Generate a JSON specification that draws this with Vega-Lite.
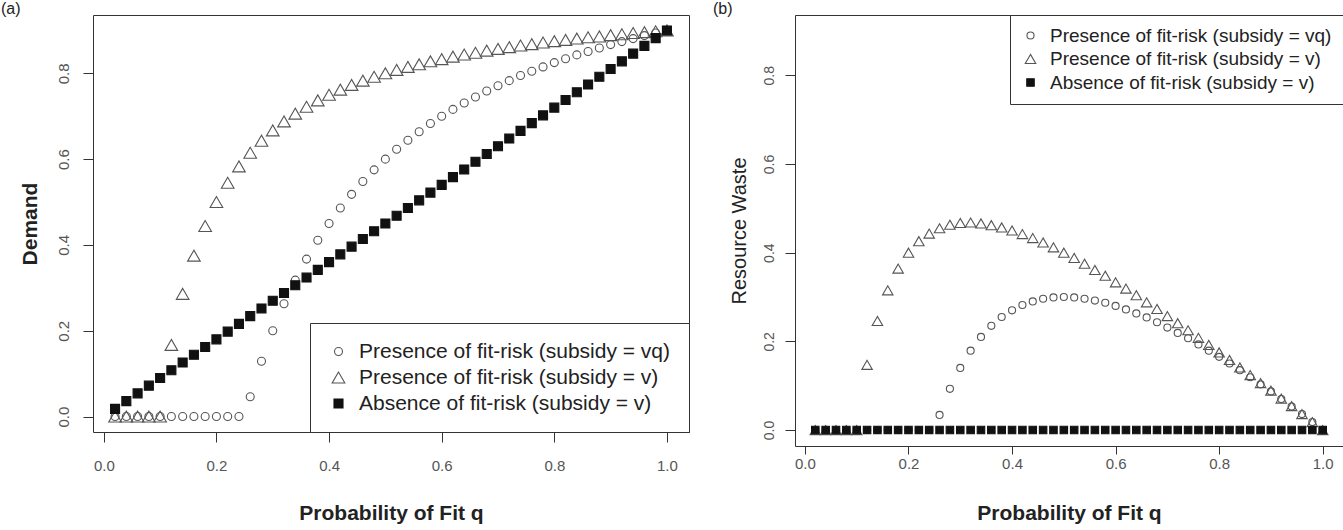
{
  "$schema": "https://vega.github.io/schema/vega-lite/v6.json",
  "padding": {"left": 0, "top": 0, "right": 0, "bottom": 0},
  "background": "white",
  "spacing": 22,
  "datasets": {
    "rows": [
      {"q":0.02,"series":"Presence of fit-risk (subsidy = vq)","demand":0,"waste":0},
      {"q":0.04,"series":"Presence of fit-risk (subsidy = vq)","demand":0,"waste":0},
      {"q":0.06,"series":"Presence of fit-risk (subsidy = vq)","demand":0,"waste":0},
      {"q":0.08,"series":"Presence of fit-risk (subsidy = vq)","demand":0,"waste":0},
      {"q":0.10,"series":"Presence of fit-risk (subsidy = vq)","demand":0,"waste":0},
      {"q":0.12,"series":"Presence of fit-risk (subsidy = vq)","demand":0,"waste":0},
      {"q":0.14,"series":"Presence of fit-risk (subsidy = vq)","demand":0,"waste":0},
      {"q":0.16,"series":"Presence of fit-risk (subsidy = vq)","demand":0,"waste":0},
      {"q":0.18,"series":"Presence of fit-risk (subsidy = vq)","demand":0,"waste":0},
      {"q":0.20,"series":"Presence of fit-risk (subsidy = vq)","demand":0,"waste":0},
      {"q":0.22,"series":"Presence of fit-risk (subsidy = vq)","demand":0,"waste":0},
      {"q":0.24,"series":"Presence of fit-risk (subsidy = vq)","demand":0,"waste":0},
      {"q":0.26,"series":"Presence of fit-risk (subsidy = vq)","demand":0.046,"waste":0.034},
      {"q":0.28,"series":"Presence of fit-risk (subsidy = vq)","demand":0.129,"waste":0.093},
      {"q":0.30,"series":"Presence of fit-risk (subsidy = vq)","demand":0.2,"waste":0.14},
      {"q":0.32,"series":"Presence of fit-risk (subsidy = vq)","demand":0.263,"waste":0.179},
      {"q":0.34,"series":"Presence of fit-risk (subsidy = vq)","demand":0.318,"waste":0.21},
      {"q":0.36,"series":"Presence of fit-risk (subsidy = vq)","demand":0.367,"waste":0.235},
      {"q":0.38,"series":"Presence of fit-risk (subsidy = vq)","demand":0.411,"waste":0.255},
      {"q":0.40,"series":"Presence of fit-risk (subsidy = vq)","demand":0.45,"waste":0.27},
      {"q":0.42,"series":"Presence of fit-risk (subsidy = vq)","demand":0.486,"waste":0.282},
      {"q":0.44,"series":"Presence of fit-risk (subsidy = vq)","demand":0.518,"waste":0.29},
      {"q":0.46,"series":"Presence of fit-risk (subsidy = vq)","demand":0.548,"waste":0.296},
      {"q":0.48,"series":"Presence of fit-risk (subsidy = vq)","demand":0.575,"waste":0.299},
      {"q":0.50,"series":"Presence of fit-risk (subsidy = vq)","demand":0.6,"waste":0.3},
      {"q":0.52,"series":"Presence of fit-risk (subsidy = vq)","demand":0.623,"waste":0.299},
      {"q":0.54,"series":"Presence of fit-risk (subsidy = vq)","demand":0.644,"waste":0.296},
      {"q":0.56,"series":"Presence of fit-risk (subsidy = vq)","demand":0.664,"waste":0.292},
      {"q":0.58,"series":"Presence of fit-risk (subsidy = vq)","demand":0.683,"waste":0.287},
      {"q":0.60,"series":"Presence of fit-risk (subsidy = vq)","demand":0.7,"waste":0.28},
      {"q":0.62,"series":"Presence of fit-risk (subsidy = vq)","demand":0.716,"waste":0.272},
      {"q":0.64,"series":"Presence of fit-risk (subsidy = vq)","demand":0.731,"waste":0.263},
      {"q":0.66,"series":"Presence of fit-risk (subsidy = vq)","demand":0.745,"waste":0.254},
      {"q":0.68,"series":"Presence of fit-risk (subsidy = vq)","demand":0.759,"waste":0.243},
      {"q":0.70,"series":"Presence of fit-risk (subsidy = vq)","demand":0.771,"waste":0.231},
      {"q":0.72,"series":"Presence of fit-risk (subsidy = vq)","demand":0.783,"waste":0.219},
      {"q":0.74,"series":"Presence of fit-risk (subsidy = vq)","demand":0.795,"waste":0.207},
      {"q":0.76,"series":"Presence of fit-risk (subsidy = vq)","demand":0.805,"waste":0.193},
      {"q":0.78,"series":"Presence of fit-risk (subsidy = vq)","demand":0.815,"waste":0.179},
      {"q":0.80,"series":"Presence of fit-risk (subsidy = vq)","demand":0.825,"waste":0.165},
      {"q":0.82,"series":"Presence of fit-risk (subsidy = vq)","demand":0.834,"waste":0.15},
      {"q":0.84,"series":"Presence of fit-risk (subsidy = vq)","demand":0.843,"waste":0.135},
      {"q":0.86,"series":"Presence of fit-risk (subsidy = vq)","demand":0.851,"waste":0.119},
      {"q":0.88,"series":"Presence of fit-risk (subsidy = vq)","demand":0.859,"waste":0.103},
      {"q":0.90,"series":"Presence of fit-risk (subsidy = vq)","demand":0.867,"waste":0.087},
      {"q":0.92,"series":"Presence of fit-risk (subsidy = vq)","demand":0.874,"waste":0.07},
      {"q":0.94,"series":"Presence of fit-risk (subsidy = vq)","demand":0.881,"waste":0.053},
      {"q":0.96,"series":"Presence of fit-risk (subsidy = vq)","demand":0.888,"waste":0.036},
      {"q":0.98,"series":"Presence of fit-risk (subsidy = vq)","demand":0.894,"waste":0.018},
      {"q":1.00,"series":"Presence of fit-risk (subsidy = vq)","demand":0.9,"waste":0},
      {"q":0.02,"series":"Presence of fit-risk (subsidy = v)","demand":0,"waste":0},
      {"q":0.04,"series":"Presence of fit-risk (subsidy = v)","demand":0,"waste":0},
      {"q":0.06,"series":"Presence of fit-risk (subsidy = v)","demand":0,"waste":0},
      {"q":0.08,"series":"Presence of fit-risk (subsidy = v)","demand":0,"waste":0},
      {"q":0.10,"series":"Presence of fit-risk (subsidy = v)","demand":0,"waste":0},
      {"q":0.12,"series":"Presence of fit-risk (subsidy = v)","demand":0.167,"waste":0.147},
      {"q":0.14,"series":"Presence of fit-risk (subsidy = v)","demand":0.286,"waste":0.246},
      {"q":0.16,"series":"Presence of fit-risk (subsidy = v)","demand":0.375,"waste":0.315},
      {"q":0.18,"series":"Presence of fit-risk (subsidy = v)","demand":0.444,"waste":0.364},
      {"q":0.20,"series":"Presence of fit-risk (subsidy = v)","demand":0.5,"waste":0.4},
      {"q":0.22,"series":"Presence of fit-risk (subsidy = v)","demand":0.545,"waste":0.426},
      {"q":0.24,"series":"Presence of fit-risk (subsidy = v)","demand":0.583,"waste":0.443},
      {"q":0.26,"series":"Presence of fit-risk (subsidy = v)","demand":0.615,"waste":0.455},
      {"q":0.28,"series":"Presence of fit-risk (subsidy = v)","demand":0.643,"waste":0.463},
      {"q":0.30,"series":"Presence of fit-risk (subsidy = v)","demand":0.667,"waste":0.467},
      {"q":0.32,"series":"Presence of fit-risk (subsidy = v)","demand":0.688,"waste":0.468},
      {"q":0.34,"series":"Presence of fit-risk (subsidy = v)","demand":0.706,"waste":0.466},
      {"q":0.36,"series":"Presence of fit-risk (subsidy = v)","demand":0.722,"waste":0.462},
      {"q":0.38,"series":"Presence of fit-risk (subsidy = v)","demand":0.737,"waste":0.457},
      {"q":0.40,"series":"Presence of fit-risk (subsidy = v)","demand":0.75,"waste":0.45},
      {"q":0.42,"series":"Presence of fit-risk (subsidy = v)","demand":0.762,"waste":0.442},
      {"q":0.44,"series":"Presence of fit-risk (subsidy = v)","demand":0.773,"waste":0.433},
      {"q":0.46,"series":"Presence of fit-risk (subsidy = v)","demand":0.783,"waste":0.423},
      {"q":0.48,"series":"Presence of fit-risk (subsidy = v)","demand":0.792,"waste":0.412},
      {"q":0.50,"series":"Presence of fit-risk (subsidy = v)","demand":0.8,"waste":0.4},
      {"q":0.52,"series":"Presence of fit-risk (subsidy = v)","demand":0.808,"waste":0.388},
      {"q":0.54,"series":"Presence of fit-risk (subsidy = v)","demand":0.815,"waste":0.375},
      {"q":0.56,"series":"Presence of fit-risk (subsidy = v)","demand":0.821,"waste":0.361},
      {"q":0.58,"series":"Presence of fit-risk (subsidy = v)","demand":0.828,"waste":0.348},
      {"q":0.60,"series":"Presence of fit-risk (subsidy = v)","demand":0.833,"waste":0.333},
      {"q":0.62,"series":"Presence of fit-risk (subsidy = v)","demand":0.839,"waste":0.319},
      {"q":0.64,"series":"Presence of fit-risk (subsidy = v)","demand":0.844,"waste":0.304},
      {"q":0.66,"series":"Presence of fit-risk (subsidy = v)","demand":0.848,"waste":0.288},
      {"q":0.68,"series":"Presence of fit-risk (subsidy = v)","demand":0.853,"waste":0.273},
      {"q":0.70,"series":"Presence of fit-risk (subsidy = v)","demand":0.857,"waste":0.257},
      {"q":0.72,"series":"Presence of fit-risk (subsidy = v)","demand":0.861,"waste":0.241},
      {"q":0.74,"series":"Presence of fit-risk (subsidy = v)","demand":0.865,"waste":0.225},
      {"q":0.76,"series":"Presence of fit-risk (subsidy = v)","demand":0.868,"waste":0.208},
      {"q":0.78,"series":"Presence of fit-risk (subsidy = v)","demand":0.872,"waste":0.192},
      {"q":0.80,"series":"Presence of fit-risk (subsidy = v)","demand":0.875,"waste":0.175},
      {"q":0.82,"series":"Presence of fit-risk (subsidy = v)","demand":0.878,"waste":0.158},
      {"q":0.84,"series":"Presence of fit-risk (subsidy = v)","demand":0.881,"waste":0.141},
      {"q":0.86,"series":"Presence of fit-risk (subsidy = v)","demand":0.884,"waste":0.124},
      {"q":0.88,"series":"Presence of fit-risk (subsidy = v)","demand":0.886,"waste":0.106},
      {"q":0.90,"series":"Presence of fit-risk (subsidy = v)","demand":0.889,"waste":0.089},
      {"q":0.92,"series":"Presence of fit-risk (subsidy = v)","demand":0.891,"waste":0.071},
      {"q":0.94,"series":"Presence of fit-risk (subsidy = v)","demand":0.894,"waste":0.054},
      {"q":0.96,"series":"Presence of fit-risk (subsidy = v)","demand":0.896,"waste":0.036},
      {"q":0.98,"series":"Presence of fit-risk (subsidy = v)","demand":0.898,"waste":0.018},
      {"q":1.00,"series":"Presence of fit-risk (subsidy = v)","demand":0.9,"waste":0},
      {"q":0.02,"series":"Absence of fit-risk (subsidy = v)","demand":0.018,"waste":0},
      {"q":0.04,"series":"Absence of fit-risk (subsidy = v)","demand":0.036,"waste":0},
      {"q":0.06,"series":"Absence of fit-risk (subsidy = v)","demand":0.054,"waste":0},
      {"q":0.08,"series":"Absence of fit-risk (subsidy = v)","demand":0.072,"waste":0},
      {"q":0.10,"series":"Absence of fit-risk (subsidy = v)","demand":0.09,"waste":0},
      {"q":0.12,"series":"Absence of fit-risk (subsidy = v)","demand":0.108,"waste":0},
      {"q":0.14,"series":"Absence of fit-risk (subsidy = v)","demand":0.126,"waste":0},
      {"q":0.16,"series":"Absence of fit-risk (subsidy = v)","demand":0.144,"waste":0},
      {"q":0.18,"series":"Absence of fit-risk (subsidy = v)","demand":0.162,"waste":0},
      {"q":0.20,"series":"Absence of fit-risk (subsidy = v)","demand":0.18,"waste":0},
      {"q":0.22,"series":"Absence of fit-risk (subsidy = v)","demand":0.198,"waste":0},
      {"q":0.24,"series":"Absence of fit-risk (subsidy = v)","demand":0.216,"waste":0},
      {"q":0.26,"series":"Absence of fit-risk (subsidy = v)","demand":0.234,"waste":0},
      {"q":0.28,"series":"Absence of fit-risk (subsidy = v)","demand":0.252,"waste":0},
      {"q":0.30,"series":"Absence of fit-risk (subsidy = v)","demand":0.27,"waste":0},
      {"q":0.32,"series":"Absence of fit-risk (subsidy = v)","demand":0.288,"waste":0},
      {"q":0.34,"series":"Absence of fit-risk (subsidy = v)","demand":0.306,"waste":0},
      {"q":0.36,"series":"Absence of fit-risk (subsidy = v)","demand":0.324,"waste":0},
      {"q":0.38,"series":"Absence of fit-risk (subsidy = v)","demand":0.342,"waste":0},
      {"q":0.40,"series":"Absence of fit-risk (subsidy = v)","demand":0.36,"waste":0},
      {"q":0.42,"series":"Absence of fit-risk (subsidy = v)","demand":0.378,"waste":0},
      {"q":0.44,"series":"Absence of fit-risk (subsidy = v)","demand":0.396,"waste":0},
      {"q":0.46,"series":"Absence of fit-risk (subsidy = v)","demand":0.414,"waste":0},
      {"q":0.48,"series":"Absence of fit-risk (subsidy = v)","demand":0.432,"waste":0},
      {"q":0.50,"series":"Absence of fit-risk (subsidy = v)","demand":0.45,"waste":0},
      {"q":0.52,"series":"Absence of fit-risk (subsidy = v)","demand":0.468,"waste":0},
      {"q":0.54,"series":"Absence of fit-risk (subsidy = v)","demand":0.486,"waste":0},
      {"q":0.56,"series":"Absence of fit-risk (subsidy = v)","demand":0.504,"waste":0},
      {"q":0.58,"series":"Absence of fit-risk (subsidy = v)","demand":0.522,"waste":0},
      {"q":0.60,"series":"Absence of fit-risk (subsidy = v)","demand":0.54,"waste":0},
      {"q":0.62,"series":"Absence of fit-risk (subsidy = v)","demand":0.558,"waste":0},
      {"q":0.64,"series":"Absence of fit-risk (subsidy = v)","demand":0.576,"waste":0},
      {"q":0.66,"series":"Absence of fit-risk (subsidy = v)","demand":0.594,"waste":0},
      {"q":0.68,"series":"Absence of fit-risk (subsidy = v)","demand":0.612,"waste":0},
      {"q":0.70,"series":"Absence of fit-risk (subsidy = v)","demand":0.63,"waste":0},
      {"q":0.72,"series":"Absence of fit-risk (subsidy = v)","demand":0.648,"waste":0},
      {"q":0.74,"series":"Absence of fit-risk (subsidy = v)","demand":0.666,"waste":0},
      {"q":0.76,"series":"Absence of fit-risk (subsidy = v)","demand":0.684,"waste":0},
      {"q":0.78,"series":"Absence of fit-risk (subsidy = v)","demand":0.702,"waste":0},
      {"q":0.80,"series":"Absence of fit-risk (subsidy = v)","demand":0.72,"waste":0},
      {"q":0.82,"series":"Absence of fit-risk (subsidy = v)","demand":0.738,"waste":0},
      {"q":0.84,"series":"Absence of fit-risk (subsidy = v)","demand":0.756,"waste":0},
      {"q":0.86,"series":"Absence of fit-risk (subsidy = v)","demand":0.774,"waste":0},
      {"q":0.88,"series":"Absence of fit-risk (subsidy = v)","demand":0.792,"waste":0},
      {"q":0.90,"series":"Absence of fit-risk (subsidy = v)","demand":0.81,"waste":0},
      {"q":0.92,"series":"Absence of fit-risk (subsidy = v)","demand":0.828,"waste":0},
      {"q":0.94,"series":"Absence of fit-risk (subsidy = v)","demand":0.846,"waste":0},
      {"q":0.96,"series":"Absence of fit-risk (subsidy = v)","demand":0.864,"waste":0},
      {"q":0.98,"series":"Absence of fit-risk (subsidy = v)","demand":0.882,"waste":0},
      {"q":1.00,"series":"Absence of fit-risk (subsidy = v)","demand":0.9,"waste":0}
    ]
  },
  "data": {"name": "rows"},
  "config": {
    "font": "Liberation Sans",
    "view": {"stroke": "#333", "strokeWidth": 1},
    "axis": {
      "domain": false,
      "grid": false,
      "ticks": true,
      "tickSize": 10,
      "tickColor": "#333",
      "labelFont": "Liberation Sans",
      "labelFontSize": 15,
      "labelColor": "#555",
      "titleFont": "Liberation Sans",
      "titleFontSize": 21,
      "titleFontWeight": "bold",
      "titleColor": "#222"
    },
    "legend": {"labelLimit": 600},
    "title": {"fontSize": 16, "fontWeight": "normal", "color": "#222", "anchor": "start", "frame": "group", "offset": -2}
  },
  "resolve": {
    "scale": {"shape": "independent", "fill": "independent", "stroke": "independent", "size": "independent"},
    "legend": {"shape": "independent", "fill": "independent", "stroke": "independent", "size": "independent"}
  },
  "hconcat": [
    {
      "title": {"text": "(a)", "dx": -92},
      "width": 596,
      "height": 417,
      "mark": {"type": "point", "strokeWidth": 1.1, "opacity": 1},
      "encoding": {
        "x": {"field": "q", "type": "quantitative",
              "scale": {"domain": [-0.0192, 1.0392], "nice": false, "zero": false},
              "axis": {"values": [0, 0.2, 0.4, 0.6, 0.8, 1], "format": ".1f", "title": "Probability of Fit q", "labelPadding": 16, "titlePadding": 29}},
        "y": {"field": "demand", "type": "quantitative",
              "scale": {"domain": [-0.036, 0.936], "nice": false, "zero": false},
              "axis": {"values": [0, 0.2, 0.4, 0.6, 0.8], "format": ".1f", "title": "Demand", "labelAngle": -90, "labelPadding": 12, "titlePadding": 16}},
        "shape": {"field": "series", "type": "nominal",
                  "scale": {"domain": ["Presence of fit-risk (subsidy = vq)", "Presence of fit-risk (subsidy = v)", "Absence of fit-risk (subsidy = v)"], "range": ["circle", "triangle-up", "square"]},
                  "legend": {"title": null, "orient": "bottom-right", "offset": 0, "padding": 18, "strokeColor": "#333", "fillColor": "white", "labelFontSize": 21, "labelColor": "#222", "rowPadding": 4, "labelOffset": 10, "symbolStrokeWidth": 1.1}},
        "fill": {"field": "series", "type": "nominal",
                 "scale": {"domain": ["Presence of fit-risk (subsidy = vq)", "Presence of fit-risk (subsidy = v)", "Absence of fit-risk (subsidy = v)"], "range": ["transparent", "transparent", "#111"]}},
        "stroke": {"field": "series", "type": "nominal",
                   "scale": {"domain": ["Presence of fit-risk (subsidy = vq)", "Presence of fit-risk (subsidy = v)", "Absence of fit-risk (subsidy = v)"], "range": ["#555", "#555", "#111"]}},
        "size": {"field": "series", "type": "nominal",
                 "scale": {"type": "ordinal", "domain": ["Presence of fit-risk (subsidy = vq)", "Presence of fit-risk (subsidy = v)", "Absence of fit-risk (subsidy = v)"], "range": [64, 160, 81]}}
      }
    },
    {
      "title": {"text": "(b)", "dx": -82},
      "width": 548,
      "height": 431,
      "mark": {"type": "point", "strokeWidth": 1.1, "opacity": 1},
      "encoding": {
        "x": {"field": "q", "type": "quantitative",
              "scale": {"domain": [-0.0192, 1.0392], "nice": false, "zero": false},
              "axis": {"values": [0, 0.2, 0.4, 0.6, 0.8, 1], "format": ".1f", "title": "Probability of Fit q", "labelPadding": 2, "titlePadding": 31, "tickSize": 8}},
        "y": {"field": "waste", "type": "quantitative",
              "scale": {"domain": [-0.036, 0.936], "nice": false, "zero": false},
              "axis": {"values": [0, 0.2, 0.4, 0.6, 0.8], "format": ".1f", "title": "Resource Waste", "labelAngle": -90, "labelPadding": 9, "titlePadding": 13, "titleFontWeight": "normal", "titleFontSize": 20, "labelFontSize": 14}},
        "shape": {"field": "series", "type": "nominal",
                  "scale": {"domain": ["Presence of fit-risk (subsidy = vq)", "Presence of fit-risk (subsidy = v)", "Absence of fit-risk (subsidy = v)"], "range": ["circle", "triangle-up", "square"]},
                  "legend": {"title": null, "orient": "top-right", "offset": 0, "padding": 11, "strokeColor": "#333", "fillColor": "white", "labelFontSize": 19, "labelColor": "#222", "rowPadding": 3.5, "labelOffset": 10, "symbolStrokeWidth": 1.1}},
        "fill": {"field": "series", "type": "nominal",
                 "scale": {"domain": ["Presence of fit-risk (subsidy = vq)", "Presence of fit-risk (subsidy = v)", "Absence of fit-risk (subsidy = v)"], "range": ["transparent", "transparent", "#111"]}},
        "stroke": {"field": "series", "type": "nominal",
                   "scale": {"domain": ["Presence of fit-risk (subsidy = vq)", "Presence of fit-risk (subsidy = v)", "Absence of fit-risk (subsidy = v)"], "range": ["#555", "#555", "#111"]}},
        "size": {"field": "series", "type": "nominal",
                 "scale": {"type": "ordinal", "domain": ["Presence of fit-risk (subsidy = vq)", "Presence of fit-risk (subsidy = v)", "Absence of fit-risk (subsidy = v)"], "range": [50, 110, 56]}}
      }
    }
  ]
}
